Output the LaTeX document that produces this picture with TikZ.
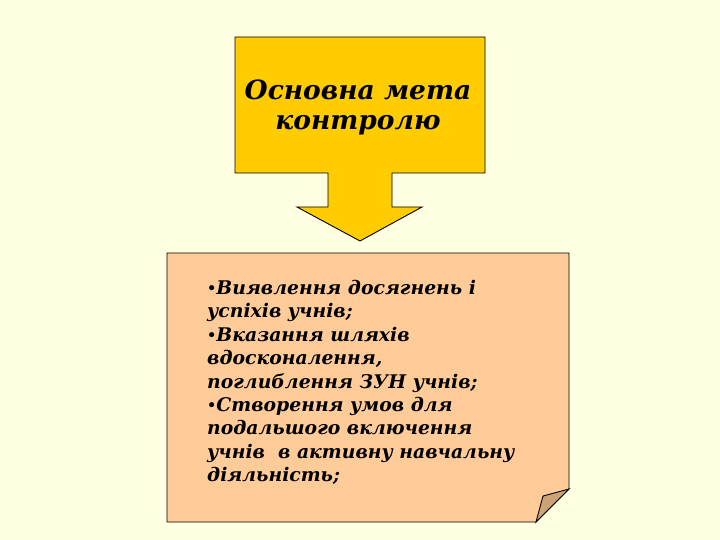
\documentclass[tikz,border=0pt]{standalone}
\usepackage{fontspec}
\setmainfont{DejaVu Serif}
\definecolor{bg}{RGB}{255,255,225}
\definecolor{gold}{RGB}{255,204,0}
\definecolor{peach}{RGB}{255,204,153}
\definecolor{foldc}{RGB}{204,163,117}
\newcommand{\smbul}{{\fontsize{14.5}{14.5}\selectfont\raisebox{1pt}{•}}}
\tikzset{
  shapeline/.style={draw=black, line width=0.9pt, line join=miter},
  titletext/.style={align=center, inner sep=0pt, font=\fontsize{26.5}{30}\selectfont\bfseries\itshape},
  bodytext/.style={align=left, inner sep=0pt, anchor=north west, font=\fontsize{18.8}{23.4}\selectfont\bfseries\itshape}
}
\begin{document}
\begin{tikzpicture}[x=1pt,y=-1pt]
\fill[bg] (0,0) rectangle (720,540);
\useasboundingbox (0,0) rectangle (720,540);
% callout arrow
\path[shapeline, fill=gold] (235,37) -- (485,37) -- (485,173) -- (392,173) -- (392,207) -- (422,207)
  -- (360,241) -- (297,207) -- (328,207) -- (328,173) -- (235,173) -- cycle;
\node[titletext] (title) at (358,107) {Основна мета \\ контролю};
% note with folded corner
\path[shapeline, fill=peach] (167,253) -- (569,253) -- (569,489) -- (536,522) -- (167,522) -- cycle;
\path[shapeline, fill=foldc] (536,522) -- (543,496) -- (569,489) -- cycle;
\node[bodytext] (body) at (207,280) {\smbul Виявлення досягнень і\\
успіхів учнів;\\
\smbul Вказання шляхів\\
вдосконалення,\\
поглиблення ЗУН учнів;\\
\smbul Створення умов для\\
подальшого включення\\
учнів~ в активну навчальну\\
діяльність;};
\end{tikzpicture}
\end{document}
